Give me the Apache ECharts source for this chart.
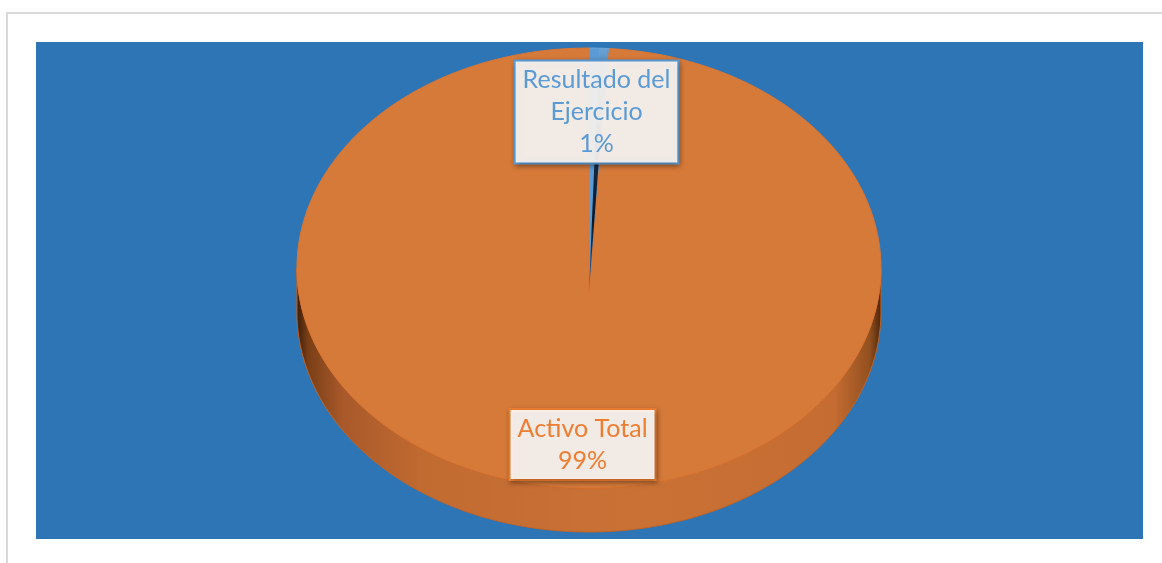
<!DOCTYPE html>
<html>
<head>
<meta charset="utf-8">
<script src="https://cdn.jsdelivr.net/npm/echarts@6/dist/echarts.min.js"></script>
<style>
  html, body { margin: 0; padding: 0; background: #ffffff; width: 1162px; height: 563px; overflow: hidden; }
  #frame { position: absolute; left: 6px; top: 12px; width: 1220px; height: 620px; border: 2px solid #d9d9d9; box-sizing: border-box; }
  #chart { position: absolute; left: 36px; top: 42px; width: 1107px; height: 497px; }
</style>
</head>
<body>
<div id="frame"></div>
<div id="chart"></div>
<script>
// Slices, in drawing order (clockwise from 12 o'clock)
const categories = ['Resultado del Ejercicio', 'Activo Total'];
const values = [1, 99];

// Look of each slice
const topColors = ['#5B9BD5', '#D67A3A'];
const labelColors = ['#5B9BD5', '#ED7D31'];
const labelFills = ['rgba(246,243,241,0.94)', 'rgba(255,255,255,0.88)'];

// Tilted-disc projection, expressed as fractions of the plot size
const disc = { cx: 0.4995, rx: 0.2622, cy: 0.503, ry: 0.4922, persp: 0.109, depth: 0.0885, labelR: 0.76 };

const total = values.reduce((s, v) => s + v, 0);
const starts = [], ends = [];
values.reduce((acc, v) => { starts.push(acc / total * Math.PI * 2); ends.push((acc + v) / total * Math.PI * 2); return acc + v; }, 0);

function wrapName(name, maxLen) {
  const words = name.split(' '); const lines = []; let cur = '';
  words.forEach(w => {
    if (cur && (cur + ' ' + w).length > maxLen) { lines.push(cur); cur = w; }
    else cur = cur ? cur + ' ' + w : w;
  });
  lines.push(cur);
  return lines.join('\n');
}

function project(a, r, drop, W, H) {
  const u = r * Math.sin(a), t = -r * Math.cos(a);
  const k = 1 + disc.persp * t;
  return [disc.cx * W + disc.rx * W * u / k, (disc.cy * H + disc.ry * H * t) / k + drop];
}

function arc(s, e, r, drop, W, H) {
  const n = Math.max(2, Math.ceil((e - s) / (Math.PI / 360)));
  const pts = [];
  for (let j = 0; j <= n; j++) pts.push(project(s + (e - s) * j / n, r, drop, W, H));
  return pts;
}

const chart = echarts.init(document.getElementById('chart'), null, { renderer: 'canvas' });

chart.setOption({
  backgroundColor: '#2E75B6',
  animation: false,
  series: [{
    type: 'custom',
    coordinateSystem: 'none',
    data: values.map((v, i) => ({ name: categories[i], value: v })),
    renderItem: function (params, api) {
      const i = params.dataIndex;
      const W = api.getWidth(), H = api.getHeight();
      const s = starts[i], e = ends[i];
      const depth = disc.depth * H;
      const children = [];

      // Front wall: only the part between the left and right silhouette points shows
      const sideA = Math.acos(disc.persp), sideB = Math.PI * 2 - Math.acos(disc.persp);
      const a0 = Math.max(s, sideA), a1 = Math.min(e, sideB);
      if (a1 > a0) {
        const topArc = arc(a0, a1, 1, 0, W, H);
        const botArc = arc(a0, a1, 1, depth, W, H).reverse();
        children.push({
          type: 'polygon', z2: 1,
          shape: { points: topArc.concat(botArc) },
          style: {
            fill: new echarts.graphic.LinearGradient(0, 0, 1, 0, [
              { offset: 0, color: '#3a1c08' },
              { offset: 0.02, color: '#7a3f17' },
              { offset: 0.08, color: '#A9592A' },
              { offset: 0.22, color: '#C26B31' },
              { offset: 0.6, color: '#CA7236' },
              { offset: 0.92, color: '#C46C31' },
              { offset: 0.98, color: '#93501f' },
              { offset: 1, color: '#4a250c' }
            ]),
            stroke: '#C9631F', lineWidth: 1
          }
        });
      }

      // Top face of the slice
      const apex = project(0, 0, 0, W, H);
      children.push({
        type: 'polygon', z2: 5,
        shape: { points: [apex].concat(arc(s, e, 1, 0, W, H)) },
        style: { fill: topColors[i], stroke: i === 1 ? '#DC7532' : '#6AA6DC', lineWidth: 1 }
      });

      // Cut face seen along the trailing edge of a slice at the back
      if (e < Math.PI / 2) {
        const p1 = project(s + (e - s) * 0.5, 1, 0, W, H), p2 = project(s + (e - s) * 0.9, 1, 0, W, H);
        children.push({
          type: 'polygon', z2: 6,
          shape: { points: [apex, p1, p2] },
          style: {
            fill: new echarts.graphic.LinearGradient(0, 0, 0, 1, [
              { offset: 0, color: '#6aa3d8' },
              { offset: 0.35, color: '#1d3550' },
              { offset: 0.7, color: '#0c1624' },
              { offset: 1, color: '#2d5f94' }
            ])
          }
        });
      }

      // Data label: name and share, placed along the slice's middle angle
      const pos = project((s + e) / 2, disc.labelR, 0, W, H);
      const pct = Math.round(values[i] / total * 100) + '%';
      children.push({
        type: 'text', z2: 20,
        style: {
          text: wrapName(categories[i], 14) + '\n' + pct,
          x: pos[0], y: pos[1],
          align: 'center', verticalAlign: 'middle',
          fill: labelColors[i],
          font: '25px Lato, "Noto Sans", sans-serif',
          lineHeight: 32,
          backgroundColor: labelFills[i],
          borderColor: labelColors[i], borderWidth: 2,
          padding: [3, 7, 2, 7],
          shadowColor: 'rgba(0,0,0,0.35)', shadowBlur: 5, shadowOffsetX: 1, shadowOffsetY: 2
        }
      });

      return { type: 'group', children: children };
    }
  }]
});
</script>
</body>
</html>
